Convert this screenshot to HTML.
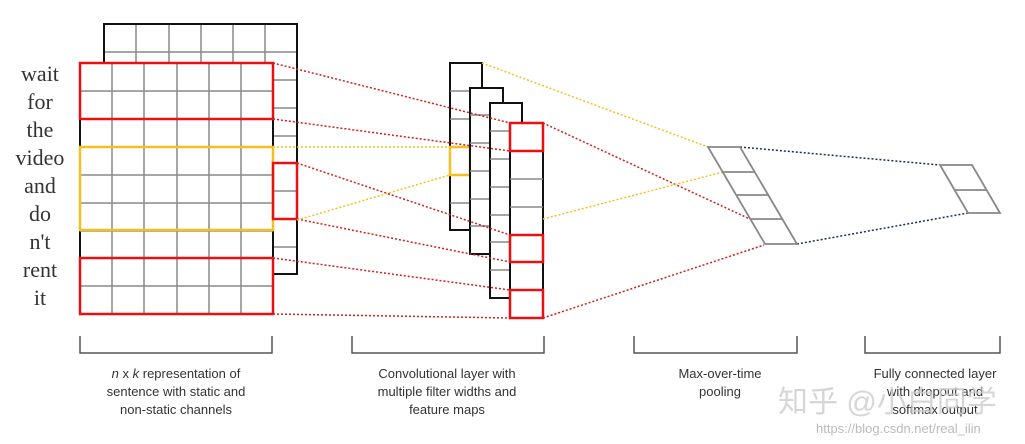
<!DOCTYPE html>
<html><head><meta charset="utf-8"><style>
html,body{margin:0;padding:0;background:#fff;}
svg{display:block;}
</style></head><body>
<svg width="1025" height="444" viewBox="0 0 1025 444" xmlns="http://www.w3.org/2000/svg">
<rect width="1025" height="444" fill="#fff"/>
<!-- back grid -->
<g stroke="#888" stroke-width="1.5" fill="none">
  <line x1="136" y1="24" x2="136" y2="63"/><line x1="169" y1="24" x2="169" y2="63"/>
  <line x1="201" y1="24" x2="201" y2="63"/><line x1="233" y1="24" x2="233" y2="63"/>
  <line x1="265" y1="24" x2="265" y2="63"/>
  <line x1="104" y1="52" x2="297" y2="52"/>
  <line x1="273" y1="80" x2="297" y2="80"/><line x1="273" y1="108" x2="297" y2="108"/>
  <line x1="273" y1="136" x2="297" y2="136"/><line x1="273" y1="191" x2="297" y2="191"/>
  <line x1="273" y1="247" x2="297" y2="247"/>
</g>
<polyline points="104,63 104,24 297,24 297,274 273,274" fill="none" stroke="#111" stroke-width="2"/>
<!-- front grid -->
<g stroke="#888" stroke-width="1.5">
  <line x1="112" y1="63" x2="112" y2="314"/><line x1="144" y1="63" x2="144" y2="314"/>
  <line x1="177" y1="63" x2="177" y2="314"/><line x1="209" y1="63" x2="209" y2="314"/>
  <line x1="241" y1="63" x2="241" y2="314"/>
  <line x1="80" y1="91" x2="273" y2="91"/><line x1="80" y1="119" x2="273" y2="119"/>
  <line x1="80" y1="175" x2="273" y2="175"/><line x1="80" y1="203" x2="273" y2="203"/>
  <line x1="80" y1="286" x2="273" y2="286"/>
</g>
<line x1="80" y1="119" x2="80" y2="258" stroke="#111" stroke-width="2"/>
<line x1="273" y1="119" x2="273" y2="258" stroke="#111" stroke-width="2"/>
<g stroke="#888" stroke-width="1.5"><line x1="80" y1="147" x2="273" y2="147"/><line x1="80" y1="231" x2="273" y2="231"/><line x1="80" y1="258" x2="273" y2="258"/></g>
<rect x="80" y="63" width="193" height="56" fill="none" stroke="#e81010" stroke-width="2.5"/>
<rect x="80" y="258" width="193" height="56" fill="none" stroke="#e81010" stroke-width="2.5"/>
<rect x="80" y="147" width="193" height="83" fill="none" stroke="#f5bf20" stroke-width="2.5"/>
<rect x="273" y="163" width="24" height="56" fill="none" stroke="#e81010" stroke-width="2.5"/>
<!-- words -->
<g font-family="'Liberation Serif',serif" font-size="22" fill="#333" text-anchor="middle">
<text x="40" y="81">wait</text><text x="40" y="109">for</text><text x="40" y="137">the</text>
<text x="40" y="165">video</text><text x="40" y="193">and</text><text x="40" y="221">do</text>
<text x="40" y="249">n't</text><text x="40" y="277">rent</text><text x="40" y="305">it</text>
</g>
<!-- feature maps -->
<rect x="450" y="63" width="32" height="167" fill="#fff" stroke="#111" stroke-width="2"/>
<g stroke="#888" stroke-width="1.5"><line x1="450" y1="91" x2="470" y2="91"/><line x1="450" y1="119" x2="470" y2="119"/><line x1="450" y1="203" x2="470" y2="203"/></g>
<rect x="450" y="147" width="20" height="28" fill="none" stroke="#f5bf20" stroke-width="2.5"/>
<rect x="470" y="88" width="33" height="166" fill="#fff" stroke="#111" stroke-width="2"/>
<g stroke="#888" stroke-width="1.5"><line x1="470" y1="115" x2="490" y2="115"/><line x1="470" y1="143" x2="490" y2="143"/><line x1="470" y1="171" x2="490" y2="171"/><line x1="470" y1="199" x2="490" y2="199"/><line x1="470" y1="226" x2="490" y2="226"/></g>
<rect x="490" y="103" width="32" height="195" fill="#fff" stroke="#111" stroke-width="2"/>
<g stroke="#888" stroke-width="1.5"><line x1="490" y1="131" x2="510" y2="131"/><line x1="490" y1="159" x2="510" y2="159"/><line x1="490" y1="187" x2="510" y2="187"/><line x1="490" y1="215" x2="510" y2="215"/><line x1="490" y1="242" x2="510" y2="242"/><line x1="490" y1="270" x2="510" y2="270"/></g>
<rect x="510" y="123" width="33" height="195" fill="#fff" stroke="#111" stroke-width="2"/>
<g stroke="#888" stroke-width="1.5"><line x1="510" y1="179" x2="543" y2="179"/><line x1="510" y1="207" x2="543" y2="207"/></g>
<g fill="none" stroke="#e81010" stroke-width="2.5">
<rect x="510" y="123" width="33" height="28"/><rect x="510" y="235" width="33" height="27"/><rect x="510" y="290" width="33" height="28"/>
</g>
<!-- connectors -->
<g stroke="#d02020" stroke-width="1.5" stroke-dasharray="2,2" fill="none">
<line x1="273" y1="63" x2="510" y2="123"/><line x1="273" y1="119" x2="510" y2="151"/>
<line x1="297" y1="163" x2="510" y2="235"/><line x1="297" y1="219" x2="510" y2="262"/>
<line x1="273" y1="258" x2="510" y2="290"/><line x1="273" y1="314" x2="510" y2="318"/>
<line x1="543" y1="123" x2="752" y2="220"/><line x1="543" y1="318" x2="764" y2="245"/>
</g>
<g stroke="#f5bf20" stroke-width="1.5" stroke-dasharray="2,2" fill="none">
<line x1="273" y1="147" x2="450" y2="147"/><line x1="297" y1="220" x2="450" y2="175"/>
<line x1="482" y1="63" x2="708" y2="147"/><line x1="543" y1="219" x2="723" y2="172"/>
</g>
<g stroke="#1e2d5a" stroke-width="1.5" stroke-dasharray="2,2" fill="none">
<line x1="740" y1="147" x2="940" y2="165"/><line x1="797" y1="244" x2="968" y2="213"/>
</g>
<!-- pooling -->
<g stroke="#888" stroke-width="1.8" fill="none">
<polygon points="708,147 740,147 797,244 765,244"/>
<line x1="723" y1="172" x2="755" y2="172"/><line x1="737" y1="195" x2="769" y2="195"/><line x1="751" y1="219" x2="783" y2="219"/>
<polygon points="940,165 972,165 1000,213 968,213"/>
<line x1="954" y1="190" x2="986" y2="190"/>
</g>
<!-- brackets -->
<g stroke="#555" stroke-width="1.5" fill="none">
<polyline points="80,336 80,353 272,353 272,336"/>
<polyline points="352,336 352,353 544,353 544,336"/>
<polyline points="634,336 634,353 797,353 797,336"/>
<polyline points="865,336 865,353 1000,353 1000,336"/>
</g>
<g font-family="'Liberation Sans',sans-serif" font-size="13" fill="#333" text-anchor="middle">
<text x="176" y="378"><tspan font-style="italic">n</tspan> x <tspan font-style="italic">k</tspan> representation of</text>
<text x="176" y="396">sentence with static and</text>
<text x="176" y="414">non-static channels</text>
<text x="447" y="378">Convolutional layer with</text>
<text x="447" y="396">multiple filter widths and</text>
<text x="447" y="414">feature maps</text>
<text x="720" y="378">Max-over-time</text>
<text x="720" y="396">pooling</text>
<text x="935" y="378">Fully connected layer</text>
<text x="935" y="396">with dropout and</text>
<text x="935" y="414">softmax output</text>
</g>
<text x="778" y="412" font-family="'Liberation Sans','Noto Sans CJK SC',sans-serif" font-size="30" fill="#ccc" fill-opacity="0.8">知乎 @小白同学</text>
<text x="816" y="433" font-family="'Liberation Sans',sans-serif" font-size="13" fill="#bbb">https://blog.csdn.net/real_ilin</text>
</svg>
</body></html>
